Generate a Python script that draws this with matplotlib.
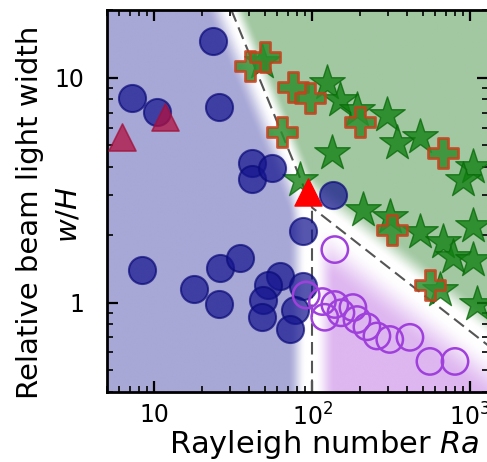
import numpy as np
import matplotlib
matplotlib.use("Agg")
import matplotlib.pyplot as plt
from matplotlib.ticker import FuncFormatter

plt.rcParams["font.family"] = ["DejaVu Sans"]
plt.rcParams["mathtext.fontset"] = "dejavusans"

# ---- data ----
# blue filled circles
CIRC_RA = [23.4, 7.24, 10.3, 25.5, 41.3, 41.3, 55.3, 135, 87.1, 8.39, 17.9, 25.9,
           34.7, 25.5, 62.2, 52.2, 48.5, 47.8, 87.1, 77.4, 72.0]
CIRC_WH = [14.5, 8.15, 7.06, 7.43, 4.19, 3.56, 3.98, 3.02, 2.09, 1.40, 1.15, 1.42,
           1.57, 0.99, 1.31, 1.20, 1.03, 0.858, 1.18, 0.93, 0.76]
# purple open circles
RING_RA = [139, 91.5, 116, 139, 152, 181, 120, 192, 222, 257, 310, 416, 557, 803]
RING_WH = [1.72, 1.08, 1.01, 0.98, 0.90, 0.95, 0.86, 0.84, 0.78, 0.71, 0.685, 0.70, 0.547, 0.547]
# green stars
STAR_RA = [47.8, 124, 150, 192, 297, 344, 482, 1045, 133, 83.3, 209, 310, 482, 674,
           780, 1045, 1045, 1107, 645, 903]
STAR_WH = [11.8, 9.5, 7.98, 7.2, 6.85, 5.14, 5.47, 4.02, 4.64, 3.52, 2.59, 2.41, 2.05,
           1.85, 1.60, 2.18, 1.55, 0.98, 1.14, 3.52]
# green crosses with red edge
PLUS_RA = [40.1, 49.9, 75.2, 96.4, 64.0, 200, 674, 320, 557]
PLUS_WH = [11.3, 12.3, 9.12, 8.15, 5.75, 6.37, 4.64, 2.11, 1.20]
# crimson triangles
TRI_RA = [6.26, 11.6]
TRI_WH = [5.47, 6.71]
# bright red triangle
RED_RA = [93.6]
RED_WH = [3.11]
# regime boundaries (dashed)
BOUND_RA = [30.7, 100, 1300]
BOUND_WH = [20, 2.64, 0.645]
VLINE_RA = [100, 100]
VLINE_WH = [0.4, 2.64]

XLIM = (5, 1300)
YLIM = (0.4, 20)

C_BLUE_BG = np.array([168, 168, 215]) / 255
C_GREEN_BG = np.array([162, 200, 162]) / 255
C_PURPLE_BG = np.array([222, 182, 240]) / 255

fig = plt.figure(figsize=(4.87, 4.62), dpi=100)
pos = [107 / 487, 70 / 462, 381 / 487, 382 / 462]
bg = fig.add_axes(pos, zorder=0)
ax = fig.add_axes(pos, zorder=1)
ax.patch.set_alpha(0)

# ---- soft background regions (computed in log space) ----
lx0, lx1 = np.log10(XLIM)
ly0, ly1 = np.log10(YLIM)
sx = 381 / (lx1 - lx0)
sy = 382 / (ly1 - ly0)
u = np.linspace(lx0, lx1, 600)
v = np.linspace(ly0, ly1, 600)
U, V = np.meshgrid(u, v)
X, Y = U * sx, V * sy

bx = np.log10(BOUND_RA) * sx
by = np.log10(BOUND_WH) * sy
jx, jy = bx[1], by[1]
d1 = np.array([bx[0] - jx, by[0] - jy]); d1 /= np.hypot(*d1)
d2 = np.array([bx[2] - jx, by[2] - jy]); d2 /= np.hypot(*d2)
s1 = (X - jx) * d1[1] - (Y - jy) * d1[0]      # >0 right of upper line
s2 = -(X - jx) * d2[1] + (Y - jy) * d2[0]     # >0 above lower line
s3 = X - jx                                    # >0 right of Ra=100


def soft(s, a, w):
    t = np.clip((s - a) / w, 0, 1)
    return t * t * (3 - 2 * t)


blue = (s1 < 0) & (s3 < 0)
purple = (s3 >= 0) & (s2 < 0)
green = ~blue & ~purple
f = np.zeros_like(X)
f[blue] = (soft(-s1, 2, 22) * soft(-s3, 6, 18))[blue]
f[green] = (soft(s1, 0, 14) * soft(s2, 6, 22))[green]
f[purple] = (soft(s3, 3, 20) * soft(-s2, 4, 40))[purple]
col = np.zeros(X.shape + (3,))
col[blue] = C_BLUE_BG
col[green] = C_GREEN_BG
col[purple] = C_PURPLE_BG
img = 1 - f[..., None] * (1 - col)
bg.imshow(img, extent=[lx0, lx1, ly0, ly1], origin="lower", aspect="auto",
          interpolation="bilinear")
bg.set_xlim(lx0, lx1); bg.set_ylim(ly0, ly1)
bg.axis("off")

# ---- markers ----
ax.scatter(STAR_RA, STAR_WH, marker="*", s=720, color="#108010", alpha=0.78,
           edgecolor="#0a6a0a", linewidth=1.0, zorder=3)
ax.scatter(PLUS_RA, PLUS_WH, marker="P", s=470, color="#2f8f2f", alpha=0.85,
           edgecolor="#c8401c", linewidth=2.0, zorder=4)
ax.scatter(CIRC_RA, CIRC_WH, marker="o", s=380, color="#15158f", alpha=0.72,
           edgecolor="#0c0c7a", linewidth=1.5, zorder=5)
ax.scatter(RING_RA, RING_WH, marker="o", s=360, facecolor="none",
           edgecolor="#a040dc", linewidth=1.8, zorder=6)
ax.scatter(TRI_RA, TRI_WH, marker="^", s=380, color="#b01040", alpha=0.75,
           edgecolor="#a0103a", linewidth=1.2, zorder=6)
ax.scatter(RED_RA, RED_WH, marker="^", s=380, color="red", edgecolor="red",
           linewidth=1.0, zorder=7)

ax.plot(BOUND_RA, BOUND_WH, color="#555555", lw=1.5, dashes=(6, 3), zorder=2)
ax.plot(VLINE_RA, VLINE_WH, color="#555555", lw=1.5, dashes=(6, 3), zorder=2)

ax.set_xscale("log"); ax.set_yscale("log")
ax.set_xlim(XLIM); ax.set_ylim(YLIM)

xlab = {10: "10", 100: "$10^2$", 1000: "$10^3$"}
ylab = {1: "1", 10: "10"}
ax.xaxis.set_major_formatter(FuncFormatter(lambda val, p: xlab.get(int(round(val)), "")))
ax.yaxis.set_major_formatter(FuncFormatter(lambda val, p: ylab.get(int(round(val)), "")))
ax.tick_params(which="both", direction="in", top=True, right=True, labelsize=17)
ax.tick_params(which="major", length=8, width=1.6)
ax.tick_params(which="minor", length=4, width=1.2)
ax.tick_params(axis="y", pad=16)
ax.tick_params(axis="x", pad=8)
for sp in ax.spines.values():
    sp.set_linewidth(2.0)

ax.set_xlabel("Rayleigh number $Ra$", fontsize=22)
ax.set_ylabel("Relative beam light width", fontsize=21)
ax.xaxis.set_label_coords(0.57, -0.095)
ax.yaxis.set_label_coords(-0.165, 0.47)
ax.text(-0.102, 0.463, "$w/H$", transform=ax.transAxes, rotation=90,
        ha="center", va="center", fontsize=21)

fig.savefig("out.png", dpi=100)
